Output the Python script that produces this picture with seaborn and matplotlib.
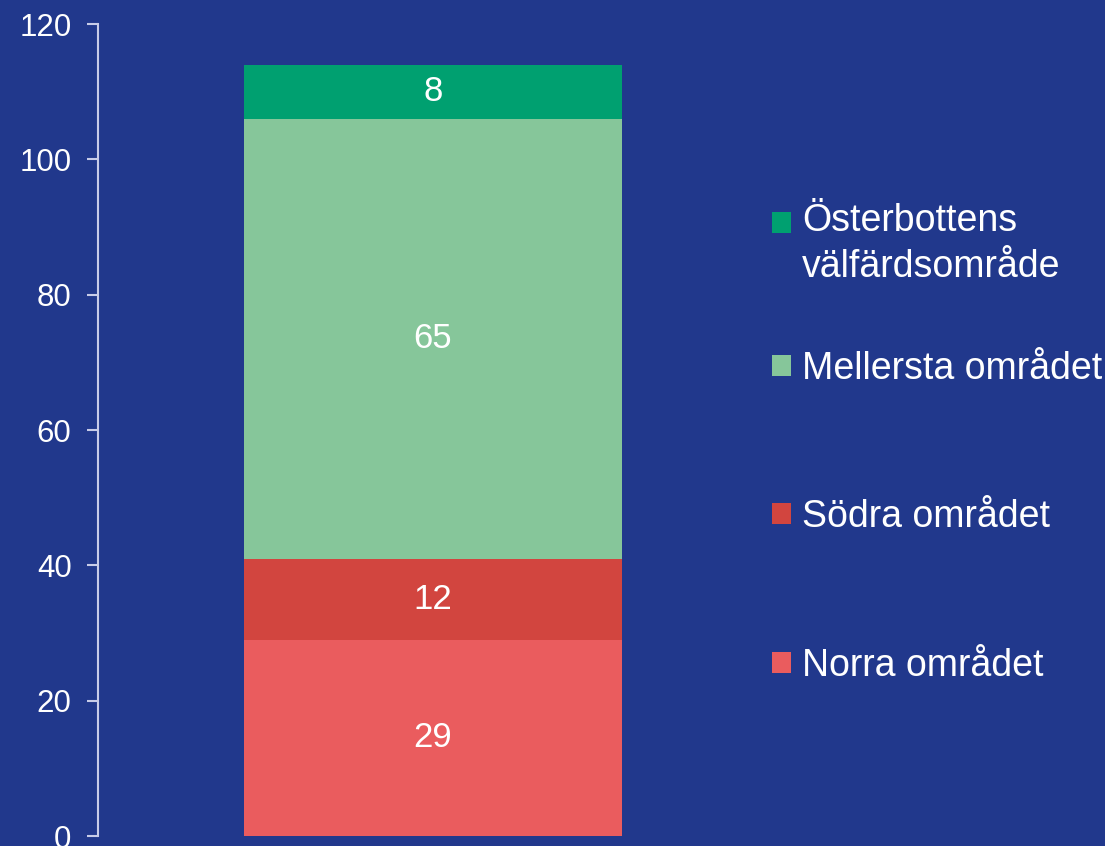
import pandas as pd
import seaborn as sns
import matplotlib.pyplot as plt

# Data (bottom to top)
omraden = ['Norra området', 'Södra området', 'Mellersta området', 'Österbottens\nvälfärdsområde']
varden = [29, 12, 65, 8]
farger = ['#EA5C5E', '#D2453F', '#86C69A', '#00A070']
yticks = [0, 20, 40, 60, 80, 100, 120]

bg = '#21388C'
axis_col = '#C8CCE8'

sns.set_style('white')
plt.rcParams['font.family'] = ['Liberation Sans', 'DejaVu Sans']

df = pd.DataFrame({'kategori': [''] * len(omraden), 'omrade': omraden, 'varde': varden})

fig = plt.figure(figsize=(11.05, 8.46), dpi=100, facecolor=bg)
ax = fig.add_axes([98 / 1105, 10 / 846, 670 / 1105, 812 / 846])
ax.set_facecolor(bg)

# staplade staplar
bottom = 0
for i, row in df.iterrows():
    sns.barplot(x=[row['kategori']], y=[row['varde']], bottom=bottom, color=farger[i],
                width=0.564, ax=ax, label=row['omrade'], saturation=1,
                edgecolor='none', linewidth=0)
    ax.text(0, bottom + row['varde'] / 2, str(row['varde']), ha='center', va='center',
            color='white', fontsize=25)
    bottom += row['varde']

ax.set_xlim(-0.5, 0.5)
ax.set_ylim(0, 120)
ax.set_yticks(yticks)
ax.set_yticklabels([str(t) for t in yticks])
ax.set_xticks([])
ax.set_xlabel('')
ax.set_ylabel('')
for s in ['top', 'right', 'bottom']:
    ax.spines[s].set_visible(False)
ax.spines['left'].set_color(axis_col)
ax.spines['left'].set_linewidth(1.5)
ax.tick_params(axis='y', colors=axis_col, labelcolor='white', labelsize=22.5,
               length=8, width=1.5, direction='out', left=True, pad=11)

# legend i två delar
h, l = ax.get_legend_handles_labels()
h, l = h[::-1], l[::-1]
opts = dict(loc='center left', bbox_transform=fig.transFigure, frameon=False, fontsize=27,
            labelcolor='white', handlelength=0.5, handleheight=0.5,
            handletextpad=0.3, borderaxespad=0, borderpad=0)
leg1 = ax.legend(h[:1], l[:1], bbox_to_anchor=(772 / 1105, 1 - 244 / 846), **opts)
leg1.get_texts()[0].set_linespacing(1.38)
# rutan i linje med första raden
rect = leg1.legend_handles[0]
rect.set_y(rect.get_y() + 16)
ax.add_artist(leg1)
leg2 = ax.legend(h[1:], l[1:], bbox_to_anchor=(772 / 1105, 1 - 517 / 846),
                 labelspacing=3.0, **opts)

fig.savefig('out.png', dpi=100, facecolor=bg)
